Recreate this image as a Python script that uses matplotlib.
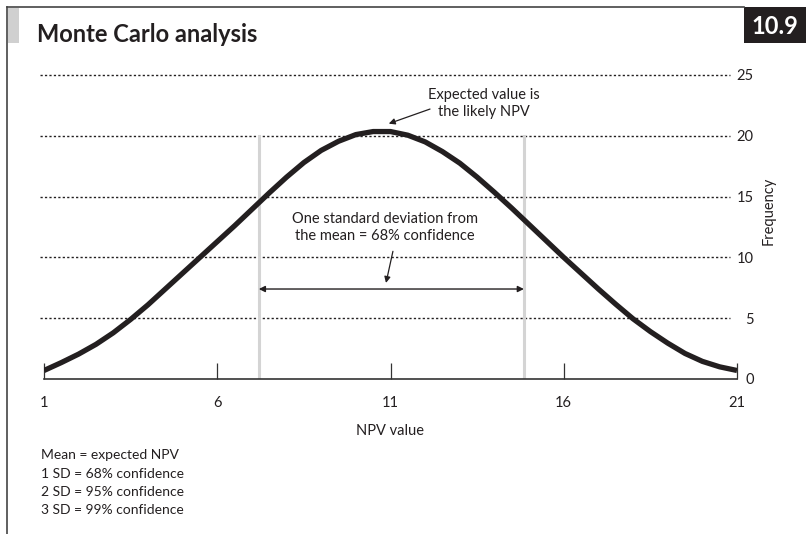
import numpy as np
import matplotlib
matplotlib.use("Agg")
import matplotlib.pyplot as plt
from matplotlib.patches import Rectangle
from matplotlib.lines import Line2D

plt.rcParams['font.family'] = ['Lato', 'DejaVu Sans']

# values
npv = np.arange(1, 21.5, 0.5)
freq = [0.7, 1.35, 2.05, 2.85, 3.8, 4.9, 6.1, 7.4, 8.7, 10.0,
        11.3, 12.6, 13.95, 15.3, 16.6, 17.8, 18.8, 19.55, 20.1, 20.35,
        20.35, 20.05, 19.5, 18.7, 17.75, 16.6, 15.35, 14.05, 12.7, 11.35,
        10.0, 8.7, 7.4, 6.15, 4.95, 3.9, 2.95, 2.1, 1.45, 1.0, 0.7]
x_ticks = [1, 6, 11, 16, 21]
y_ticks = [0, 5, 10, 15, 20, 25]
sd_bounds = [7.2, 14.85]
footer = ["Mean = expected NPV", "1 SD = 68% confidence",
          "2 SD = 95% confidence", "3 SD = 99% confidence"]

W, H = 806, 534
ink = "#231f20"

def fx(px):
    return px / W

def fy(py):
    return 1 - py / H

fig = plt.figure(figsize=(W / 100, H / 100), dpi=100)
ax = fig.add_axes([fx(44), fy(379), (737 - 44) / W, (379 - 75) / H])
ax.set_xlim(1, 21)
ax.set_ylim(0, 25)

# dotted grid lines, running a little past the axis on the left
for y in y_ticks[1:]:
    ax.plot([0.88, 20.8], [y, y], color=ink, lw=1.0, ls=(0, (1.6, 1.6)),
            clip_on=False, zorder=1)

# one standard deviation markers
for b in sd_bounds:
    ax.plot([b, b], [0, 20], color="#d4d4d4", lw=2.2, zorder=2)

ax.plot(npv, freq, color=ink, lw=3.8, solid_capstyle="butt",
        solid_joinstyle="round", zorder=3)

for s in ["top", "left", "right"]:
    ax.spines[s].set_visible(False)
ax.spines["bottom"].set_color("#333333")
ax.spines["bottom"].set_linewidth(1.2)

ax.set_xticks(x_ticks)
ax.tick_params(axis="x", direction="in", length=11.5, width=0.9,
               color="#333333", pad=12, labelsize=10.5, labelcolor=ink)
ax.yaxis.tick_right()
ax.set_yticks(y_ticks)
ax.tick_params(axis="y", length=0, pad=12, labelsize=10.5, labelcolor=ink)
for lab in ax.get_yticklabels():
    lab.set_horizontalalignment("right")

ax.set_xlabel("NPV value", fontsize=10.5, color=ink, labelpad=10)
fig.text(fx(769), fy(211), "Frequency", rotation=90, fontsize=10.5,
         color=ink, ha="center", va="center")

# annotations
ax.annotate("", xy=(sd_bounds[0], 7.4), xytext=(sd_bounds[1], 7.4),
            arrowprops=dict(arrowstyle="<|-|>", color=ink, lw=1.0,
                            mutation_scale=9, shrinkA=0, shrinkB=0))
ax.text(10.84, 12.45, "One standard deviation from\nthe mean = 68% confidence",
        ha="center", va="center", fontsize=10.5, color=ink, linespacing=1.25)
ax.annotate("", xy=(10.87, 7.9), xytext=(11.07, 10.5),
            arrowprops=dict(arrowstyle="-|>", color=ink, lw=0.9,
                            mutation_scale=9, shrinkA=0, shrinkB=0))
ax.text(13.7, 22.65, "Expected value is\nthe likely NPV",
        ha="center", va="center", fontsize=10.5, color=ink, linespacing=1.25,
        clip_on=False)
ax.annotate("", xy=(10.95, 21.0), xytext=(12.14, 22.2),
            arrowprops=dict(arrowstyle="-|>", color=ink, lw=0.9,
                            mutation_scale=9, shrinkA=0, shrinkB=0))

# frame, header and badge
fig.add_artist(Line2D([fx(7), fx(7)], [fy(7), fy(534)], color="#444444", lw=1.2))
fig.add_artist(Line2D([fx(7), fx(744)], [fy(7), fy(7)], color="#444444", lw=1.2))
fig.add_artist(Rectangle((fx(8), fy(43)), fx(11), (43 - 8) / H,
                         color="#d0d0d0", lw=0))
fig.add_artist(Rectangle((fx(744), fy(43)), fx(62), (43 - 7) / H,
                         color=ink, lw=0))
fig.text(fx(775), fy(26), "10.9", color="white", fontsize=17,
         fontweight="bold", ha="center", va="center")
fig.text(fx(37), fy(42), "Monte Carlo analysis", color=ink, fontsize=17,
         fontweight="bold", ha="left", va="baseline")

for i, line in enumerate(footer):
    fig.text(fx(41), fy(455 + i * 18.5), line, fontsize=10, color=ink,
             ha="left", va="center")

fig.savefig("out.png", dpi=100)
